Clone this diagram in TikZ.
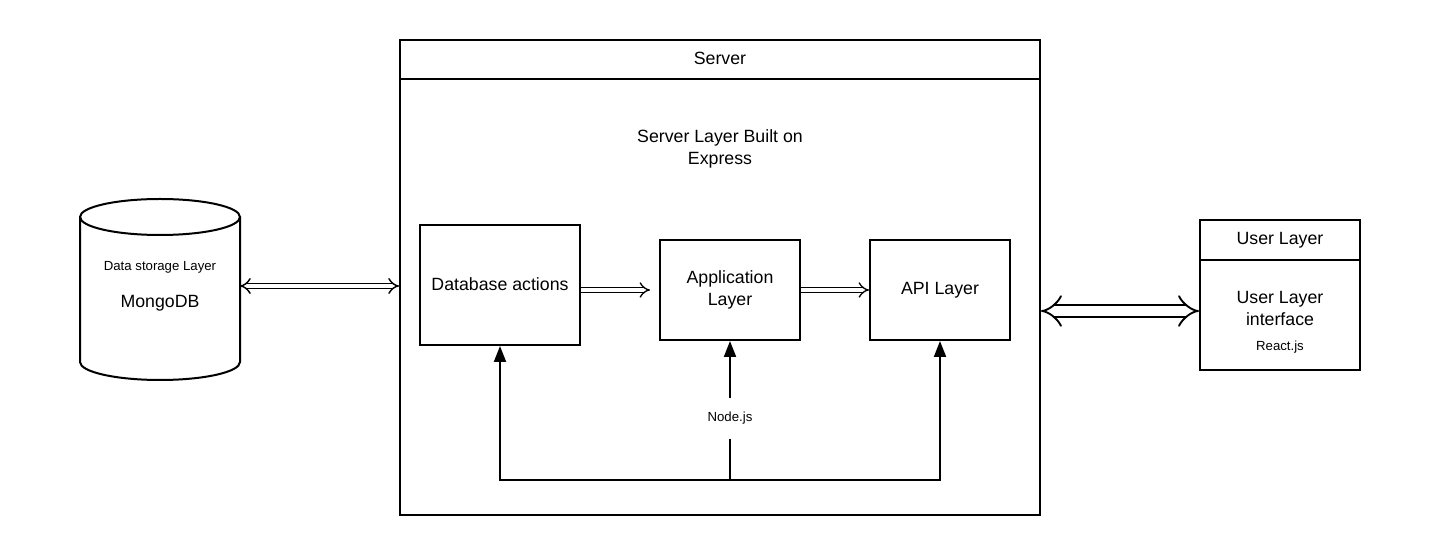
\documentclass[tikz,border=0pt]{standalone}
\usepackage{fontspec}
\setmainfont{Liberation Sans}
\usetikzlibrary{arrows.meta}
\newcommand{\fnbig}{\fontsize{13.3}{16}\selectfont}
\newcommand{\fnsmall}{\fontsize{9.9}{12}\selectfont}

\begin{document}
\begin{tikzpicture}[
  x=0.75pt, y=-0.75pt,
  box/.style={rectangle, draw=black, line width=1.5pt, inner sep=0pt, align=center, font=\fnbig},
  txt/.style={align=center, inner sep=0pt, font=\fnbig},
  smalltxt/.style={inner sep=0pt, font=\fnsmall},
  line/.style={line width=1.5pt},
  arrow/.style={line width=1.5pt, -{Triangle[length=12pt, width=9pt]}},
  linkarrow/.style={double, double distance=3pt, line width=1.1pt, {Implies}-{Implies}},
  widelink/.style={double, double distance=7pt, line width=1.4pt, {Implies}-{Implies}},
  fwdlink/.style={double, double distance=3pt, line width=1pt, -{Implies}}
]
\useasboundingbox (0,0) rectangle (1440,555);

% Data storage
\draw[line] (80,217) -- (80,362) arc[start angle=180, end angle=360, x radius=60pt, y radius=13.5pt] -- (240,217);
\draw[line] (160,217) ellipse[x radius=60pt, y radius=13.5pt];
\node[smalltxt] (db_label) at (160,267) {Data storage Layer};
\node[txt] (db) at (160,303) {MongoDB};
\coordinate (db_port) at (240,286);

% Server
\node[box, minimum width=480pt, minimum height=356.25pt] (srv) at (720,277.5) {};
\node[box, minimum width=480pt, minimum height=29.25pt, anchor=north] (srv_head) at (srv.north) {\raisebox{1.5pt}{Server}};
\node[txt] (srv_title) at (720,149) {Server Layer Built on\\Express};

\node[box, minimum width=120pt, minimum height=90pt] (dba) at (500,285) {\raisebox{1.5pt}{Database actions}};
\node[box, minimum width=105pt, minimum height=75pt] (app) at (730,290) {Application\\Layer};
\node[box, minimum width=105pt, minimum height=75pt] (api) at (940,290) {API Layer};

\draw[fwdlink] (dba.east |- app) -- ([xshift=-6.75pt]app.west);
\draw[fwdlink] (app.east) -- (api.west);

% Node.js
\coordinate (nj) at (730,480);
\draw[arrow] (nj) -| (dba.south);
\draw[arrow] (nj) -| (api.south);
\draw[arrow] (nj) -- (app.south) node[smalltxt, pos=0.443, fill=white, minimum height=30.75pt] (nodejs) {Node.js};

% User
\node[box, minimum width=120pt, minimum height=112.5pt] (usr) at (1280,295) {};
\node[box, minimum width=120pt, minimum height=30pt, anchor=north] (usr_head) at (usr.north) {\raisebox{1.5pt}{User Layer}};
\node[txt] (usr_ui) at (1280,308.5) {User Layer\\interface};
\node[smalltxt] (react) at (1280,347) {React.js};

% Links
\draw[linkarrow] (db_port) -- (db_port -| srv.west);
\draw[widelink] (srv.east |- 0,311) -- (usr.west |- 0,311);

\end{tikzpicture}
\end{document}
